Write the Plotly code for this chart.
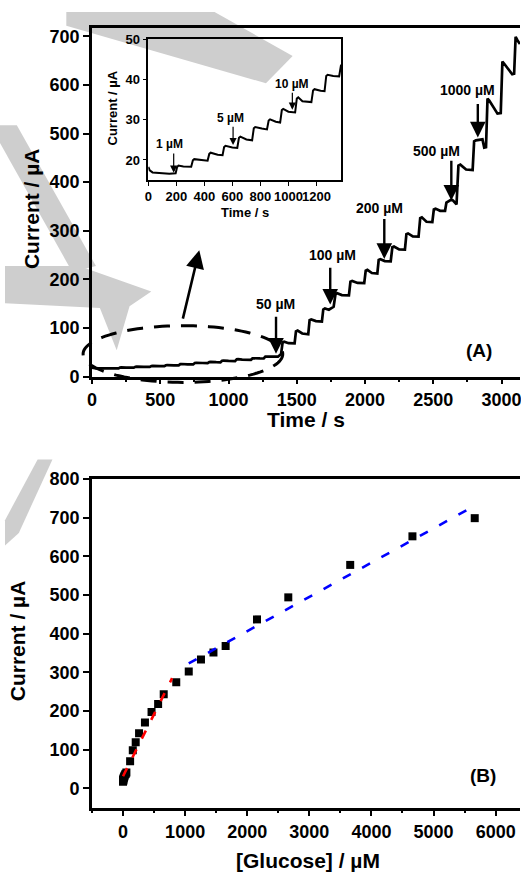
import math
import plotly.graph_objects as go

# ---------------- data ----------------
# Inset (A): low-concentration part of the amperometric response
inset_time = [0, 10, 30, 80, 150, 195, 205, 215, 250, 306, 318, 328, 380, 423, 435, 445,
              495, 530, 541, 551, 600, 635, 647, 657, 700, 741, 753, 763, 810, 847, 859,
              869, 910, 941, 953, 963, 1000, 1048, 1060, 1070, 1100, 1164, 1176, 1186,
              1230, 1258, 1270, 1280, 1320, 1362, 1376]
inset_current = [18.3, 17.4, 16.9, 16.7, 16.6, 16.7, 18.2, 18.6, 18.4, 18.3, 19.9, 20.2,
                 19.9, 19.8, 21.5, 21.8, 21.3, 21.2, 23.2, 23.5, 23.1, 23.0, 25.5, 25.8,
                 25.1, 24.9, 27.9, 28.2, 27.8, 27.6, 29.8, 30.1, 29.5, 29.3, 32.4, 32.7,
                 32.0, 31.8, 35.3, 35.6, 34.6, 34.4, 37.3, 37.6, 37.2, 37.1, 40.9, 41.2,
                 40.9, 40.8, 43.7]

# Main trace (A) after the inset window
late_time = [1385, 1396, 1408, 1440, 1484, 1494, 1506, 1540, 1584, 1594, 1606, 1640, 1684,
             1694, 1706, 1735, 1770, 1784, 1796, 1830, 1882, 1893, 1906, 1945, 1994, 2005,
             2017, 2050, 2090, 2100, 2112, 2145, 2188, 2200, 2212, 2250, 2292, 2303, 2315,
             2350, 2392, 2404, 2416, 2450, 2493, 2504, 2516, 2550, 2586, 2596, 2610, 2632,
             2645, 2670, 2684, 2698, 2740, 2788, 2799, 2812, 2860, 2873, 2886, 2897, 2910,
             2970, 2994, 3006, 3018, 3078, 3092, 3103, 3116, 3135]
late_current = [46, 70, 71.5, 68.5, 68, 93, 94.5, 88.5, 87, 116, 117.5, 114, 113, 138, 140,
                137.5, 143.5, 170, 171.5, 167.5, 167, 195, 196.5, 192.5, 192, 218, 219.5,
                213, 212, 240, 241.5, 237.5, 237, 266, 267.5, 261.5, 261, 293, 294.5, 288.5,
                288, 326, 327.5, 318.5, 318, 344, 345.5, 341, 341, 358, 360, 364, 362, 354,
                434, 436, 426, 425, 484, 486, 488, 471, 472, 572, 568, 541, 542, 648, 644,
                622, 623, 699, 692, 684]

main_time = inset_time + late_time
main_current = inset_current + late_current

# Arrow labels in (A)
main_arrow_labels = ["50 µM", "100 µM", "200 µM", "500 µM", "1000 µM"]
main_arrow_time = [1348, 1745, 2141, 2632, 2826]
main_arrow_tip = [47, 148, 242, 362, 492]
main_arrow_tail = [126, 227, 327, 447, 564]
main_label_time = [1346, 1759, 2106, 2526, 2750]
main_label_current = [150, 250, 347, 464, 589]

inset_arrow_labels = ["1 µM", "5 µM", "10 µM"]
inset_arrow_time = [181, 605, 1028]
inset_arrow_tip = [16.8, 23.7, 32.5]
inset_arrow_tail = [22.0, 28.6, 37.1]
inset_label_time = [153, 586, 1023]
inset_label_current = [23.9, 30.4, 39.0]

# Calibration plot (B)
glucose_conc = [0, 1, 2, 3, 4, 9, 14, 19, 24, 34, 44, 54, 114, 157, 204, 258, 353, 459, 565,
                655, 857, 1058, 1255, 1456, 1652, 2157, 2661, 3658, 4660, 5663]
glucose_current = [16.7, 18.4, 20.0, 21.5, 23.2, 25.5, 27.9, 29.8, 32.4, 35.3, 37.4, 41.0,
                   70, 98, 119, 142, 170, 197, 218, 243, 274, 302, 333, 351, 368, 437, 494,
                   578, 652, 699]
fit_low_x = [0, 790]
fit_low_y = [31, 285]
fit_high_x = [1058, 5660]
fit_high_y = [323, 731]

# ---------------- figure ----------------
W, H = 521, 884
FONT = "Liberation Sans, Arial, sans-serif"


def fx(px):
    return px / W


def fy(py):
    return 1 - py / H


fig = go.Figure()

fig.add_trace(go.Scatter(x=main_time, y=main_current, mode="lines",
                         line=dict(color="black", width=2.7), xaxis="x", yaxis="y",
                         showlegend=False))
fig.add_trace(go.Scatter(x=inset_time, y=inset_current, mode="lines",
                         line=dict(color="black", width=2), xaxis="x3", yaxis="y3",
                         showlegend=False))
fig.add_trace(go.Scatter(x=glucose_conc, y=glucose_current, mode="markers",
                         marker=dict(symbol="square", size=8, color="black"),
                         xaxis="x2", yaxis="y2", showlegend=False))
fig.add_trace(go.Scatter(x=fit_low_x, y=fit_low_y, mode="lines",
                         line=dict(color="red", width=2.6, dash="9px,12px"),
                         xaxis="x2", yaxis="y2", showlegend=False))
fig.add_trace(go.Scatter(x=fit_high_x, y=fit_high_y, mode="lines",
                         line=dict(color="blue", width=2.6, dash="9px,13px"),
                         xaxis="x2", yaxis="y2", showlegend=False))

tick_big = dict(family=FONT, size=18, color="black", weight="bold")
tick_small = dict(family=FONT, size=13, color="black", weight="bold")

common = dict(showgrid=False, zeroline=False, showline=True, linecolor="black",
              ticks="outside", tickcolor="black", ticklabeloverflow="allow")

fig.update_layout(
    width=W, height=H,
    margin=dict(l=0, r=0, t=0, b=0),
    paper_bgcolor="white", plot_bgcolor="rgba(0,0,0,0)",
    xaxis=dict(**common, domain=[fx(88), 1], range=[0, 3135], anchor="y",
               tickvals=list(range(0, 3001, 500)), linewidth=2.6, ticklen=5, tickwidth=2,
               mirror=True, tickangle=0, tickfont=tick_big,
               minor=dict(tickmode="linear", tick0=0, dtick=250, ticks="outside",
                          ticklen=3, tickwidth=1.5, tickcolor="black")),
    yaxis=dict(**common, domain=[fy(375), fy(18)], range=[0, 718], anchor="x",
               tickvals=list(range(0, 701, 100)), linewidth=2.6, ticklen=6, tickwidth=2,
               tickfont=tick_big),
    xaxis3=dict(**common, domain=[fx(145), fx(340)], range=[0, 1376], anchor="y3",
                tickvals=list(range(0, 1201, 200)), linewidth=1.5, ticklen=4, tickwidth=1.2,
                mirror=True, tickangle=0, tickfont=tick_small),
    yaxis3=dict(**common, domain=[fy(174), fy(30)], range=[15, 50], anchor="x3",
                tickvals=[20, 30, 40, 50], linewidth=1.5, ticklen=4, tickwidth=1.2,
                mirror=True, tickfont=tick_small),
    xaxis2=dict(**common, domain=[fx(88), 1], range=[-500, 6392], anchor="y2",
                tickvals=list(range(0, 6001, 1000)), linewidth=2.6, ticklen=6, tickwidth=2,
                mirror=True, tickangle=0, tickfont=tick_big,
                minor=dict(tickmode="linear", tick0=0, dtick=500, ticks="outside",
                           ticklen=3, tickwidth=1.5, tickcolor="black")),
    yaxis2=dict(**common, domain=[fy(816), fy(480)], range=[-50, 800], anchor="x2",
                tickvals=list(range(0, 801, 100)), linewidth=2.6, ticklen=6, tickwidth=2,
                tickfont=tick_big),
)

ann = []
title_big = dict(family=FONT, size=21, color="black", weight="bold")
title_small = dict(family=FONT, size=13, color="black", weight="bold")


def paper_text(text, px, py, font, angle=0):
    return dict(text=text, x=fx(px), y=fy(py), xref="paper", yref="paper",
                xanchor="center", yanchor="middle", textangle=angle,
                showarrow=False, font=font)


ann.append(paper_text("Current / µA", 27, 203, title_big, -90))
ann.append(paper_text("Time / s", 305, 419, title_big))
ann.append(paper_text("Current / µA", 109, 100, title_small, -90))
ann.append(paper_text("Time / s", 243, 207, title_small))
ann.append(paper_text("Current / µA", 13, 645, title_big, -90))
ann.append(paper_text("[Glucose] / µM", 307, 870, title_big))

for lab, t, tip, tail, lt, lc in zip(main_arrow_labels, main_arrow_time, main_arrow_tip,
                                     main_arrow_tail, main_label_time, main_label_current):
    ann.append(dict(x=t, y=tip, ax=t, ay=tail, xref="x", yref="y", axref="x", ayref="y",
                    text="", showarrow=True, arrowhead=2, arrowwidth=2.4, arrowsize=1.3,
                    arrowcolor="black", standoff=0))
    ann.append(dict(x=lt, y=lc, xref="x", yref="y", text=lab, showarrow=False,
                    xanchor="center", yanchor="middle",
                    font=dict(family=FONT, size=14, color="black", weight="bold")))

for lab, t, tip, tail, lt, lc in zip(inset_arrow_labels, inset_arrow_time, inset_arrow_tip,
                                     inset_arrow_tail, inset_label_time, inset_label_current):
    ann.append(dict(x=t, y=tip, ax=t, ay=tail, xref="x3", yref="y3", axref="x3", ayref="y3",
                    text="", showarrow=True, arrowhead=2, arrowwidth=1.2, arrowsize=1.2,
                    arrowcolor="black", standoff=0))
    ann.append(dict(x=lt, y=lc, xref="x3", yref="y3", text=lab, showarrow=False,
                    xanchor="center", yanchor="middle",
                    font=dict(family=FONT, size=12, color="black", weight="bold")))

# big arrow from the zoomed region towards the inset
ann.append(dict(x=786, y=260, ax=663, ay=116, xref="x", yref="y", axref="x", ayref="y",
                text="", showarrow=True, arrowhead=2, arrowwidth=2.6, arrowsize=1.4,
                arrowcolor="black", standoff=0))

ann.append(dict(x=2834, y=54, xref="x", yref="y", text="(A)", showarrow=False,
                xanchor="center", yanchor="middle",
                font=dict(family=FONT, size=19, color="black", weight="bold")))
ann.append(dict(x=5801, y=34, xref="x2", yref="y2", text="(B)", showarrow=False,
                xanchor="center", yanchor="middle",
                font=dict(family=FONT, size=19, color="black", weight="bold")))
fig.update_layout(annotations=ann)

# ---------------- shapes: dashed ellipse and watermark ----------------
shapes = []
cx, cy, a, b = 180, 352, 101, 29
pts = []
for k in range(0, 121):
    th = 2 * math.pi * k / 120
    pts.append((fx(cx + a * math.cos(th)), fy(cy + b * math.sin(th))))
path = "M " + " L ".join(f"{x:.5f},{y:.5f}" for x, y in pts) + " Z"
shapes.append(dict(type="path", path=path, xref="paper", yref="paper",
                   line=dict(color="black", width=3, dash="16px,11px"), layer="above"))


def poly(points):
    return "M " + " L ".join(f"{fx(x):.5f},{fy(y):.5f}" for x, y in points) + " Z"


grey = "rgb(206,206,206)"
watermark = [
    [(62, 2), (212, 2), (291, 47), (264, 75), (62, 16)],
    [(-15, 118), (12, 118), (92, 262), (68, 268)],
    [(0, 262), (75, 262), (148, 288), (126, 303), (113, 348), (96, 305), (0, 300)],
    [(33, 460), (48, 460), (14, 535), (0, 548), (0, 522)],
]
for p in watermark:
    shapes.append(dict(type="path", path=poly(p), xref="paper", yref="paper",
                       fillcolor=grey, line=dict(width=0), layer="below"))
fig.update_layout(shapes=shapes)

fig.write_html("out.html")
